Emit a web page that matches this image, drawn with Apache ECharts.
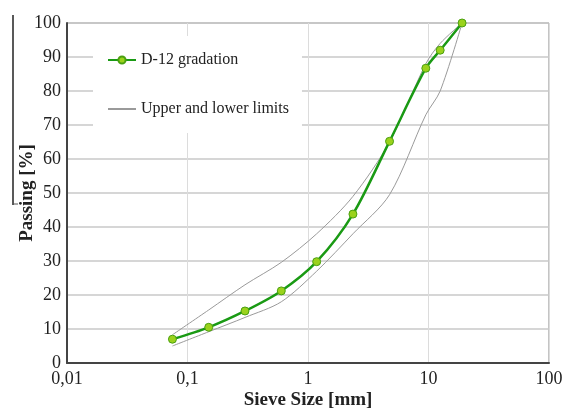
<!DOCTYPE html>
<html>
<head>
<meta charset="utf-8">
<script src="https://cdn.jsdelivr.net/npm/echarts@6/dist/echarts.min.js"></script>
<style>html,body{margin:0;padding:0;background:#fff;}#c{width:563px;height:408px;}</style>
</head>
<body>
<div id="c"></div>
<script>
var sieves = [0.075, 0.15, 0.3, 0.6, 1.18, 2.36, 4.75, 9.5, 12.5, 19];
var gradation = [7, 10.5, 15.3, 21.2, 29.8, 43.8, 65.2, 86.7, 92, 100];
var upperLimit = [8.3, 15.6, 23, 29.6, 38, 49, 65, 88, 94, 100];
var lowerLimit = [5, 9.2, 13.4, 18, 27, 38, 49.5, 73, 80, 100];
var xTicks = ['0,01', '0,1', '1', '10', '100'];
var yTicks = [0, 10, 20, 30, 40, 50, 60, 70, 80, 90, 100];

function pairs(xs, ys) { return xs.map(function (x, i) { return [x, ys[i]]; }); }

var FONT = '"Liberation Serif", "DejaVu Serif", serif';
var chart = echarts.init(document.getElementById('c'));
chart.setOption({
  animation: false,
  backgroundColor: '#fff',
  textStyle: { fontFamily: FONT },
  grid: { left: 67, right: 14, top: 23, bottom: 45, show: true, borderColor: '#888', borderWidth: 1,
          outerBoundsMode: 'none', containLabel: false },
  xAxis: {
    type: 'log', logBase: 10, min: 0.01, max: 100,
    name: 'Sieve Size [mm]', nameLocation: 'middle', nameGap: 28, nameMoveOverlap: false,
    nameTextStyle: { fontFamily: FONT, fontSize: 19, fontWeight: 'bold', color: '#222' },
    axisLine: { show: true, lineStyle: { color: '#444', width: 2 } },
    axisTick: { show: false },
    axisLabel: { fontFamily: FONT, fontSize: 18, color: '#222', margin: 7,
      formatter: function (v) { var e = Math.round(Math.log10(v)); return xTicks[e + 2]; } },
    splitLine: { show: true, lineStyle: { color: '#dcdcdc', width: 1 } },
    minorTick: { show: false }
  },
  yAxis: {
    type: 'value', min: 0, max: 100, interval: 10,
    name: 'Passing [%]', nameLocation: 'middle', nameGap: 30, nameMoveOverlap: false,
    nameTextStyle: { fontFamily: FONT, fontSize: 19, fontWeight: 'bold', color: '#222' },
    axisLine: { show: true, lineStyle: { color: '#444', width: 2 } },
    axisTick: { show: false },
    axisLabel: { fontFamily: FONT, fontSize: 18, color: '#222', margin: 6,
      formatter: function (v) { return yTicks.indexOf(v) >= 0 ? String(v) : ''; } },
    splitLine: { show: true, lineStyle: { color: '#c8c8c8', width: 1.5 } }
  },
  legend: {
    orient: 'vertical', left: 93, top: 36,
    backgroundColor: '#fff',
    padding: [14, 13, 14, 14],
    itemGap: 29, itemWidth: 28, itemHeight: 9,
    textStyle: { fontFamily: FONT, fontSize: 16, color: '#222', lineHeight: 20 },
    data: [
      { name: 'D-12 gradation' },
      { name: 'Upper and lower limits', itemStyle: { opacity: 0 } }
    ]
  },
  graphic: [
    { type: 'line', shape: { x1: 13, y1: 15, x2: 13, y2: 205 }, style: { stroke: '#222', lineWidth: 1.5 } },
    { type: 'line', shape: { x1: 13, y1: 204, x2: 18, y2: 204 }, style: { stroke: '#555', lineWidth: 1 } }
  ],
  series: [
    { name: 'Upper and lower limits', type: 'line', data: pairs(sieves, upperLimit), smooth: 0.3,
      symbol: 'none', lineStyle: { color: '#9a9a9a', width: 1 }, itemStyle: { color: '#9a9a9a' }, z: 2 },
    { name: 'Upper and lower limits', type: 'line', data: pairs(sieves, lowerLimit), smooth: 0.3,
      symbol: 'none', lineStyle: { color: '#9a9a9a', width: 1 }, itemStyle: { color: '#9a9a9a' }, z: 2 },
    { name: 'D-12 gradation', type: 'line', data: pairs(sieves, gradation), smooth: 0.3,
      symbol: 'circle', symbolSize: 8,
      lineStyle: { color: '#1a9a14', width: 2.5 },
      itemStyle: { color: '#9ad21c', borderColor: '#4aa010', borderWidth: 1 }, z: 3 }
  ]
});
</script>
</body>
</html>
